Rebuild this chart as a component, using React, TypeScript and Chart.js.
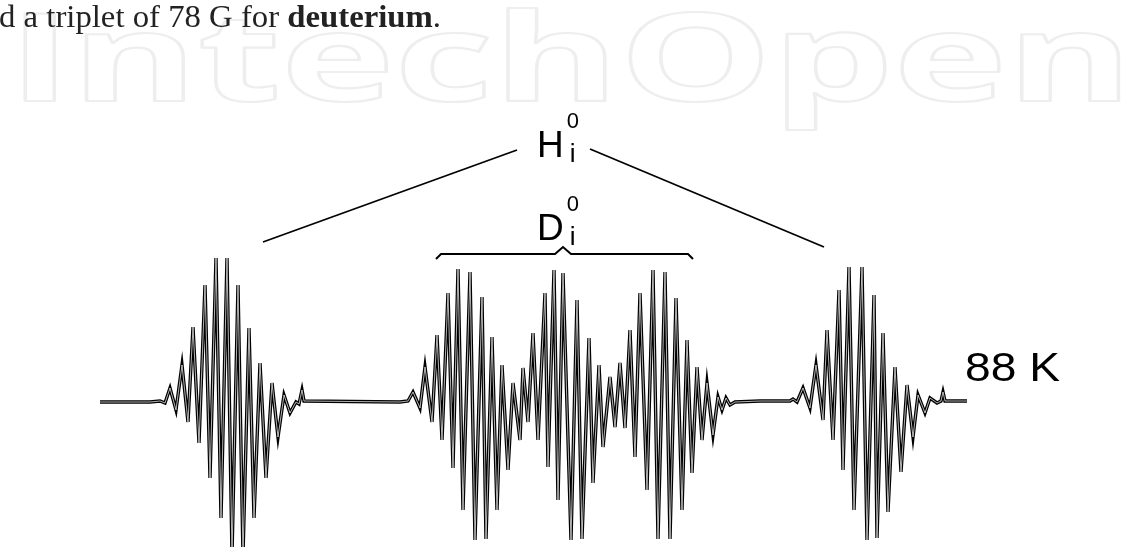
import React, { useEffect, useRef } from "react";
import { Chart, registerables } from "chart.js";
Chart.register(...registerables);

// Field positions (arbitrary field units) and derivative amplitudes (arbitrary units)
const g1Field = [100, 150, 160, 165, 170, 176, 182, 188, 193, 199, 205, 210, 216, 221, 227, 232, 238, 243, 249, 254, 260, 266, 272, 278, 284, 290, 296, 299, 302, 304];
const g1Amp = [0, 0, 1, -1, 14, -8, 37, -20, 75, -41, 117, -76, 144, -116, 144, -153, 117, -153, 74, -116, 39, -76, 19, -35, 7, -11, 0, -2, 12, 1];

const dField = [400, 408, 413, 420, 425, 432, 437, 442, 448, 453, 458, 463, 470, 475, 482, 486, 492, 497, 502, 508, 513, 520, 523, 528, 533, 538, 545, 548, 554, 558, 563, 571, 577, 582, 589, 593, 599, 603, 610, 615, 620, 625, 630, 635, 640, 647, 653, 658, 665, 670, 676, 682, 687, 692, 697, 702, 707, 713, 718, 722, 726, 730, 735];
const dAmp = [0, 1, 10, -6, 35, -20, 67, -38, 109, -66, 133, -108, 130, -138, 105, -137, 65, -108, 37, -68, 19, -38, 34, -20, 69, -38, 109, -65, 132, -98, 129, -138, 102, -137, 64, -81, 37, -45, 25, -25, 39, -26, 72, -55, 109, -88, 132, -137, 130, -137, 104, -108, 62, -71, 35, -38, 19, -33, 5, -8, 4, -3, 0];

const g5Field = [760, 790, 793, 797, 803, 810, 816, 823, 827, 833, 839, 843, 849, 854, 862, 867, 874, 877, 883, 888, 895, 901, 907, 913, 918, 925, 930, 937, 941, 943, 945, 967];
const g5Amp = [1, 1, 3, 0, 14, -6, 37, -18, 72, -38, 112, -68, 135, -108, 135, -138, 107, -136, 69, -110, 35, -70, 17, -35, 7, -11, 4, -1, 1, 10, 1, 1];

// Annotation lines
const hLeftField = [263, 517];
const hLeftAmp = [160, 252];
const hRightField = [590, 824];
const hRightAmp = [253, 155];
const braceField = [436, 441, 555, 563, 571, 688, 693];
const braceAmp = [143, 148, 148, 155, 148, 148, 143];

// Labels
const hLabelField = 537;
const hLabelAmp = 245;
const dLabelField = 537;
const dLabelAmp = 162;
const tempLabel = "88 K";
const tempField = 965;
const tempAmp = 21;

export default function App() {
  const ref = useRef<HTMLCanvasElement>(null);
  useEffect(() => {
    document.body.style.margin = "0";
    const pts = (f: number[], a: number[]) => f.map((x, i) => ({ x, y: a[i] }));
    const spectrum = [...pts(g1Field, g1Amp), ...pts(dField, dAmp), ...pts(g5Field, g5Amp)];

    const decor = {
      id: "decor",
      beforeDatasetsDraw(chart: any) {
        const ctx = chart.ctx as CanvasRenderingContext2D;
        // watermark
        ctx.save();
        ctx.font = '700 122px "Open Sans"';
        const wm = "IntechOpen";
        const w = ctx.measureText(wm).width;
        const sx = 1125 / w;
        ctx.translate(8, 101);
        ctx.scale(sx, 1);
        ctx.lineWidth = 2.2;
        ctx.strokeStyle = "#eeeeee";
        ctx.lineJoin = "round";
        ctx.strokeText(wm, 0, 0);
        ctx.restore();
        // top text
        ctx.save();
        ctx.fillStyle = "#222";
        ctx.textBaseline = "alphabetic";
        const p1 = "d a triplet of 78 G for ";
        const p2 = "deuterium";
        const p3 = ".";
        ctx.font = '32px "Liberation Serif"';
        const w1 = ctx.measureText(p1).width;
        const w3 = ctx.measureText(p3).width;
        ctx.font = 'bold 32px "Liberation Serif"';
        const w2 = ctx.measureText(p2).width;
        const s = 442 / (w1 + w2 + w3);
        ctx.translate(-1, 27);
        ctx.scale(s, 1);
        ctx.font = '32px "Liberation Serif"';
        ctx.fillText(p1, 0, 0);
        ctx.font = 'bold 32px "Liberation Serif"';
        ctx.fillText(p2, w1, 0);
        ctx.font = '32px "Liberation Serif"';
        ctx.fillText(p3, w1 + w2, 0);
        ctx.restore();
      },
      afterDatasetsDraw(chart: any) {
        const ctx = chart.ctx as CanvasRenderingContext2D;
        const xs = chart.scales.x;
        const ys = chart.scales.y;
        ctx.save();
        ctx.fillStyle = "#000";
        ctx.textBaseline = "alphabetic";
        const drawSym = (letter: string, f: number, a: number) => {
          const x = xs.getPixelForValue(f);
          const y = ys.getPixelForValue(a);
          ctx.font = '37px "Liberation Sans"';
          ctx.fillText(letter, x, y);
          const lw = ctx.measureText(letter).width;
          ctx.font = '22px "Liberation Sans"';
          ctx.fillText("0", x + lw + 3, y - 29);
          ctx.font = '26px "Liberation Sans"';
          ctx.fillText("i", x + lw + 6, y + 5);
        };
        drawSym("H", hLabelField, hLabelAmp);
        drawSym("D", dLabelField, dLabelAmp);
        const tx = xs.getPixelForValue(tempField);
        const ty = ys.getPixelForValue(tempAmp);
        ctx.font = '40px "Liberation Sans"';
        const tw = ctx.measureText(tempLabel).width;
        ctx.translate(tx, ty);
        ctx.scale(95 / tw, 1);
        ctx.fillText(tempLabel, 0, 0);
        ctx.restore();
      },
    };

    const lineDs = (data: any[], width: number, color = "#000") => ({
      data,
      showLine: true,
      borderColor: color,
      borderWidth: width,
      pointRadius: 0,
      fill: false,
      tension: 0,
    });

    const chart = new Chart(ref.current!, {
      type: "scatter",
      data: {
        datasets: [
          lineDs(spectrum, 0.7, "#ffffff"),
          lineDs(spectrum, 3.4),
          lineDs(pts(hLeftField, hLeftAmp), 1.8),
          lineDs(pts(hRightField, hRightAmp), 1.8),
          lineDs(pts(braceField, braceAmp), 2),
        ],
      },
      options: {
        animation: false,
        responsive: true,
        maintainAspectRatio: false,
        layout: { padding: 0 },
        plugins: { legend: { display: false }, tooltip: { enabled: false } },
        scales: {
          x: { type: "linear", min: 0, max: 1143, display: false },
          y: { type: "linear", min: -145, max: 402, display: false },
        },
      },
      plugins: [decor],
    });
    return () => chart.destroy();
  }, []);
  return (
    <div style={{ position: "fixed", left: 0, top: 0, width: 1143, height: 547, background: "#fff" }}>
      <canvas ref={ref} />
    </div>
  );
}
